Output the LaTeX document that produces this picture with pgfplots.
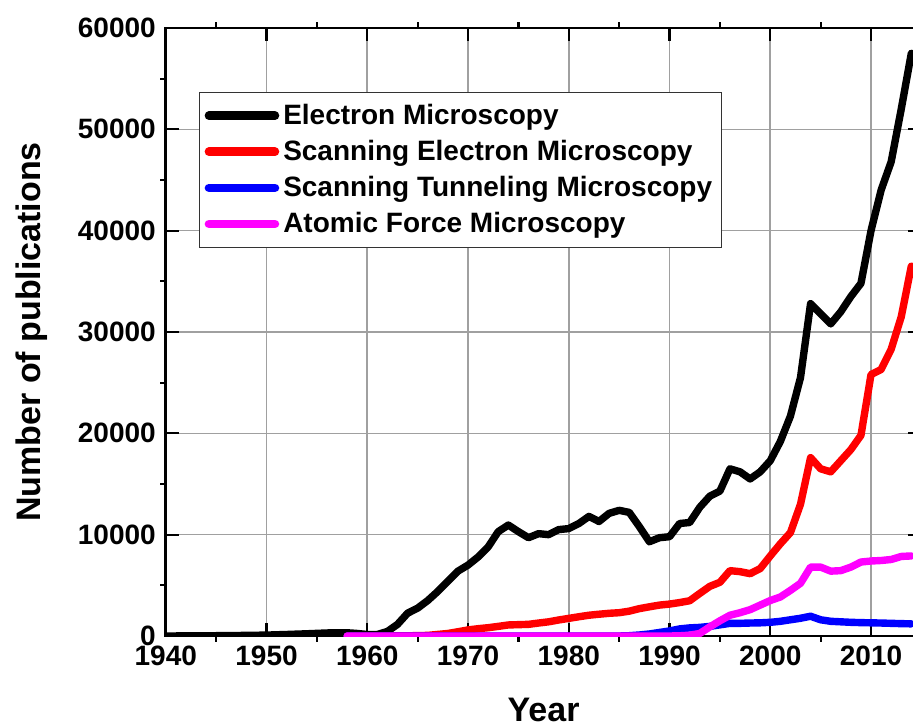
\documentclass[border=0pt]{standalone}
\usepackage{fontspec}
\setmainfont{Liberation Sans}
\usepackage{pgfplots}
\pgfplotsset{compat=1.18}
\definecolor{gridgray}{RGB}{160,160,160}
\definecolor{pinkmag}{RGB}{255,0,255}
\definecolor{pureblue}{RGB}{0,0,255}
\definecolor{purered}{RGB}{255,0,0}
\begin{document}
\begin{tikzpicture}
\begin{scope}
\path[clip] (-82.9pt,-45.5pt) rectangle (373.6pt,318pt);
\begin{axis}[
  scale only axis,
  width=377.8pt, height=304pt,
  xmin=1940, xmax=2015, ymin=0, ymax=60000,
  xtick={1940,1950,...,2010},
  ytick={0,10000,...,60000},
  minor x tick num=1, minor y tick num=1,
  tick align=inside,
  major tick length=6.5pt,
  minor tick length=-3pt,
  tick style={black, line width=1.1pt},
  axis line style={black, line width=1.3pt},
  grid=major,
  major grid style={gridgray, line width=0.8pt},
  scaled y ticks=false,
  /pgf/number format/assume math mode=true,
  /pgf/number format/set thousands separator={},
  tick label style={font=\fontsize{14}{16}\selectfont\bfseries},
  xticklabel style={yshift=-1.5pt},
  yticklabel style={xshift=-1.5pt},
  xlabel={Year}, ylabel={Number of publications},
  label style={font=\fontsize{17}{19}\selectfont\bfseries},
  xlabel style={at={(axis description cs:0.5,-0.122)}, anchor=center},
  ylabel style={at={(axis description cs:-0.177,0.5)}, anchor=center, rotate=0},
  legend cell align=left,
  legend style={at={(rel axis cs:0.044,0.895)}, anchor=north west,
    draw=black!80, line width=0.6pt, fill=white,
    font=\fontsize{14}{16}\selectfont\bfseries,
    inner xsep=2.5pt, inner ysep=4.3pt, row sep=3.4pt, column sep=0pt,
    nodes={inner xsep=2pt, inner ysep=1.5pt}},
  legend image code/.code={\draw[#1, line width=4.3pt] (0pt,0pt) -- (33pt,0pt);},
  every axis plot/.append style={line width=3.7pt, line join=round, line cap=round},
]
\addplot[black] coordinates {
(1940,0) (1942,10) (1945,30) (1948,60) (1950,90) (1952,150) (1954,220) (1956,300) (1957,320) (1958,320) (1959,250) (1960,150)
(1961,150) (1962,450) (1963,1150) (1964,2250) (1965,2750) (1966,3500) (1967,4400) (1968,5400) (1969,6400) (1970,7000)
(1971,7800) (1972,8800) (1973,10300) (1974,10950) (1975,10300) (1976,9700) (1977,10100) (1978,10000) (1979,10500) (1980,10600)
(1981,11100) (1982,11800) (1983,11300) (1984,12100) (1985,12400) (1986,12200) (1987,10800) (1988,9300) (1989,9700) (1990,9800)
(1991,11100) (1992,11200) (1993,12700) (1994,13800) (1995,14300) (1996,16500) (1997,16200) (1998,15500) (1999,16200) (2000,17300)
(2001,19200) (2002,21700) (2003,25500) (2004,32800) (2005,31800) (2006,30800) (2007,32000) (2008,33500) (2009,34800) (2010,40000)
(2011,44000) (2012,46800) (2013,52000) (2014,57500)
};
\addlegendentry{Electron Microscopy}
\addplot[purered] coordinates {
(1958,0) (1962,0) (1964,20) (1966,60) (1968,250) (1969,420) (1970,600)
(1971,720) (1972,820) (1973,950) (1974,1090) (1975,1120) (1976,1150) (1977,1280) (1978,1400) (1979,1580) (1980,1740)
(1981,1900) (1982,2050) (1983,2150) (1984,2240) (1985,2300) (1986,2450) (1987,2700) (1988,2880) (1989,3050) (1990,3150)
(1991,3300) (1992,3480) (1993,4200) (1994,4900) (1995,5300) (1996,6450) (1997,6350) (1998,6150) (1999,6650) (2000,7900)
(2001,9100) (2002,10200) (2003,13000) (2004,17600) (2005,16500) (2006,16200) (2007,17300) (2008,18400) (2009,19800) (2010,25800)
(2011,26300) (2012,28300) (2013,31500) (2014,36500)
};
\addlegendentry{Scanning Electron Microscopy}
\addplot[pureblue] coordinates {
(1958,0) (1985,0) (1986,30) (1987,100) (1988,200) (1989,350) (1990,500)
(1991,700) (1992,800) (1993,850) (1994,950) (1995,1100) (1996,1250) (1997,1250) (1998,1280) (1999,1300) (2000,1350)
(2001,1450) (2002,1600) (2003,1750) (2004,1950) (2005,1600) (2006,1450) (2007,1400) (2008,1350) (2009,1320) (2010,1300)
(2011,1280) (2012,1250) (2013,1220) (2014,1200)
};
\addlegendentry{Scanning Tunneling Microscopy}
\addplot[pinkmag] coordinates {
(1958,0) (1990,0) (1991,20) (1992,80) (1993,250) (1994,900) (1995,1500) (1996,2050) (1997,2300) (1998,2600) (1999,3050) (2000,3500)
(2001,3850) (2002,4500) (2003,5200) (2004,6800) (2005,6800) (2006,6400) (2007,6450) (2008,6800) (2009,7300) (2010,7400)
(2011,7450) (2012,7550) (2013,7850) (2014,7900)
};
\addlegendentry{Atomic Force Microscopy}
\end{axis}
\end{scope}
\pgfresetboundingbox
\useasboundingbox (-82.9pt,-45.5pt) rectangle (373.6pt,318pt);
\end{tikzpicture}
\end{document}
